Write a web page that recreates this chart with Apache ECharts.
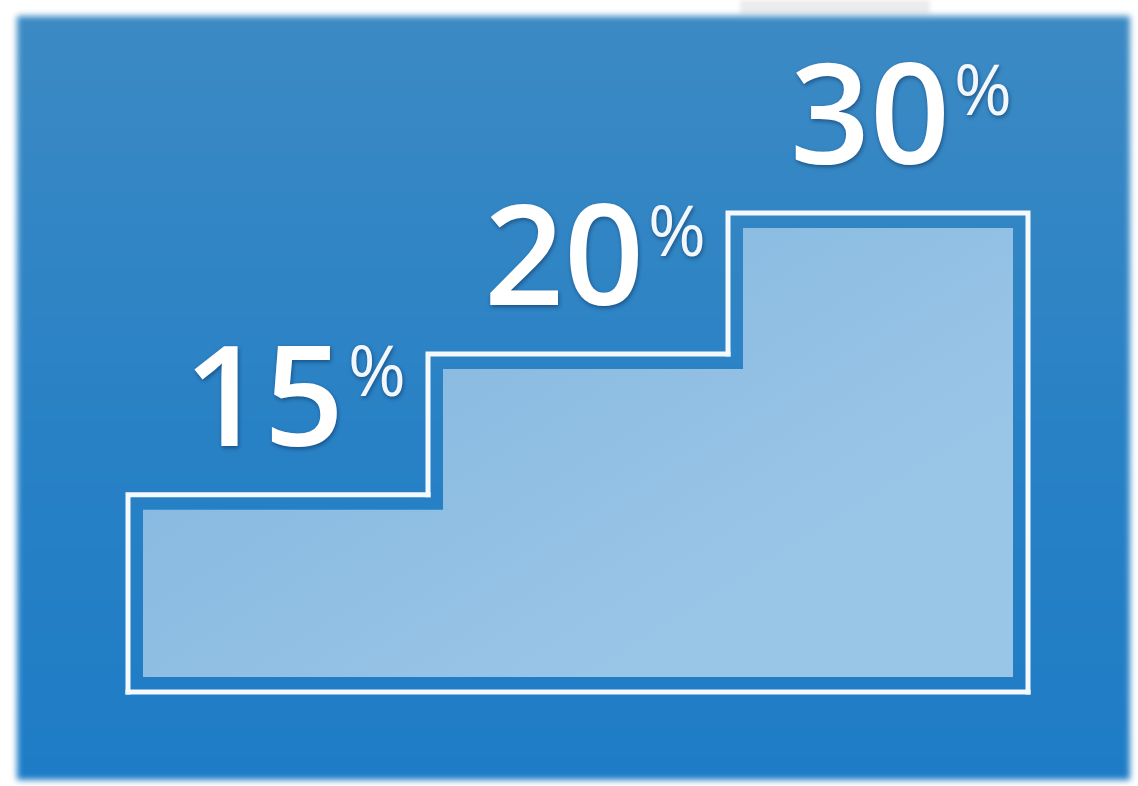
<!DOCTYPE html>
<html>
<head>
<meta charset="utf-8">
<script src="https://cdn.jsdelivr.net/npm/echarts@6/dist/echarts.min.js"></script>
<style>
    html, body { margin: 0; padding: 0; background: #ffffff; }
    #panel {
        position: absolute; left: 17px; top: 16px; width: 1113px; height: 764px;
        background: linear-gradient(180deg, #3c8ac4 0%, #2a82c5 50%, #1e7cc6 100%);
        filter: blur(3px);
    }
    #tab { position: absolute; left: 740px; top: 0; width: 190px; height: 14px; background: #ececec; filter: blur(2px); }
    #main { position: absolute; left: 0; top: 0; width: 1138px; height: 786px; }
</style>
</head>
<body>
<div id="tab"></div>
<div id="panel"></div>
<div id="main"></div>

<script type="text/javascript">

    var steps = ['step1', 'step2', 'step3'];
    var stepHeights = [1.4, 2.4, 3.4];     // relative height of each stair
    var percents = [15, 20, 30];           // label values

    var ec = echarts.init(document.getElementById('main'));

    var numSize = 140, pctSize = 70;
    var numFont = '600 ' + numSize + 'px "Open Sans"';
    var measure = document.createElement('canvas').getContext('2d');

    function textWidth(t, font) {
        measure.font = font;
        return measure.measureText(t).width;
    }

    function renderStep(params, api) {
        var i = params.dataIndex;
        var last = i === steps.length - 1;
        var top = api.coord([api.value(0), api.value(1)]);
        var base = api.coord([api.value(0), 0]);
        var prev = i > 0 ? api.coord([api.value(0), stepHeights[i - 1]]) : base;
        var first = api.coord([0, 0]);
        var end = api.coord([steps.length - 1, 0]);
        var highest = api.coord([steps.length - 1, stepHeights[steps.length - 1]]);
        var w = api.size([1, 0])[0];
        var x0 = top[0] - w / 2, x1 = top[0] + w / 2;
        var yTop = top[1], yBot = base[1];
        var pad = 15;

        var pts = [[x0, prev[1]], [x0, yTop], [x1, yTop]];
        if (last) pts.push([x1, yBot]);

        // label: big number + superscript percent
        var baseline = yTop - 48;
        var label = String(percents[i]);
        var nx = x0 + 56 + (last ? 6 : 0);
        var nw = textWidth(label, numFont);
        var shadow = {
            textShadowColor: 'rgba(0,20,60,0.45)',
            textShadowBlur: 4,
            textShadowOffsetX: 1,
            textShadowOffsetY: 2
        };

        var children = [{
            type: 'rect',
            shape: { x: x0 + pad, y: yTop + pad, width: w - (last ? 2 * pad : 0), height: yBot - yTop - 2 * pad },
            style: {
                fill: new echarts.graphic.LinearGradient(first[0], highest[1], first[0] + 300, yBot, [
                    { offset: 0, color: '#82b5de' },
                    { offset: 1, color: '#99c5e7' }
                ], true)
            }
        }, {
            type: 'polyline',
            shape: { points: pts },
            style: { stroke: '#f4f9fd', lineWidth: 5, fill: null, lineJoin: 'miter', lineCap: 'square' }
        }, {
            type: 'text',
            x: nx,
            y: baseline - 0.29 * numSize,
            style: Object.assign({
                text: label,
                font: numFont,
                fill: '#ffffff',
                verticalAlign: 'middle',
                align: 'left'
            }, shadow)
        }, {
            type: 'text',
            x: nx + nw + 4,
            y: baseline - 0.714 * (numSize - pctSize) - 0.29 * pctSize,
            style: Object.assign({
                text: '%',
                font: '500 ' + pctSize + 'px "Open Sans"',
                fill: '#f2f7fc',
                verticalAlign: 'middle',
                align: 'left'
            }, shadow)
        }];

        // one bottom edge for the whole staircase
        if (i === 0) {
            children.push({
                type: 'line',
                shape: { x1: x0 - 2.5, y1: yBot, x2: end[0] + w / 2 + 2.5, y2: yBot },
                style: { stroke: '#f4f9fd', lineWidth: 5 }
            });
        }

        return { type: 'group', children: children };
    }

    var option = {
        animation: false,
        grid: { left: 128, right: 110, top: 213, bottom: 94 },
        xAxis: {
            type: 'category',
            data: steps,
            show: false
        },
        yAxis: {
            type: 'value',
            min: 0,
            max: 3.4,
            show: false
        },
        series: [{
            type: 'custom',
            renderItem: renderStep,
            data: steps.map(function (s, i) { return [i, stepHeights[i]]; })
        }]
    };

    ec.setOption(option);
</script>
</body>
</html>
